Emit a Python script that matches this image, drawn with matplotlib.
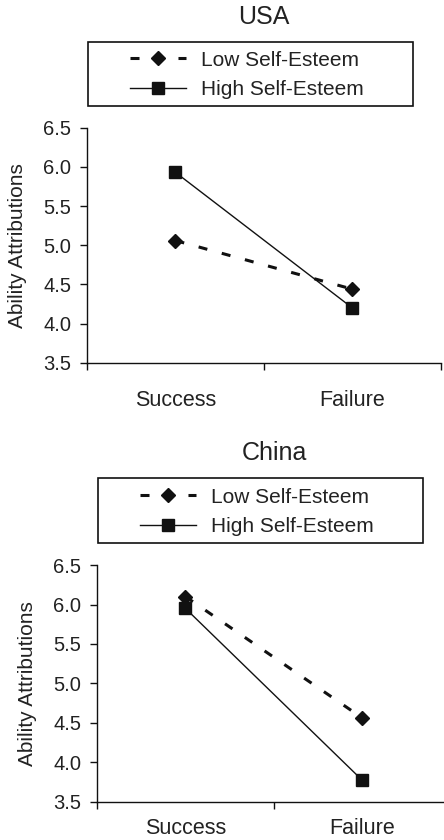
import numpy as np
import matplotlib
matplotlib.use("Agg")
import matplotlib.pyplot as plt
from matplotlib.patches import Rectangle

plt.rcParams["font.family"] = ["Liberation Sans", "DejaVu Sans"]

# Data
conditions = ["Success", "Failure"]
series_names = ["Low Self-Esteem", "High Self-Esteem"]
usa_low = [5.06, 4.44]
usa_high = [5.93, 4.20]
china_low = [6.10, 4.56]
china_high = [5.95, 3.77]
y_ticks = [3.5, 4.0, 4.5, 5.0, 5.5, 6.0, 6.5]

ink = "#111111"
text_color = "#222222"

fig = plt.figure(figsize=(4.44, 8.4), dpi=100)
ax_usa = fig.add_axes([0.196, 0.568, 0.797, 0.280])
ax_china = fig.add_axes([0.2185, 0.0456, 0.797, 0.2817])


def draw_panel(ax, title, low, high, xlabel_pad):
    x = np.arange(len(conditions)) + 0.5
    ax.plot(x, low, color=ink, lw=2.2, dashes=(2.95, 4.9), marker="D",
            markersize=7, label=series_names[0])
    ax.plot(x, high, color=ink, lw=1.0, marker="s", markersize=8,
            label=series_names[1])

    ax.set_xlim(0, len(conditions))
    ax.set_ylim(y_ticks[0], y_ticks[-1])
    ax.set_yticks(y_ticks)
    ax.set_yticklabels([f"{v:.1f}" for v in y_ticks])
    ax.set_xticks(np.arange(len(conditions) + 1))
    ax.set_xticklabels([])
    ax.set_xticks(x, minor=True)
    ax.set_xticklabels(conditions, minor=True)

    for side in ["top", "right"]:
        ax.spines[side].set_visible(False)
    for side in ["left", "bottom"]:
        ax.spines[side].set_color(ink)
        ax.spines[side].set_linewidth(1.0)

    ax.tick_params(axis="y", direction="out", length=5, width=1.0, pad=6.5,
                   labelsize=14.5, colors=ink, labelcolor=text_color)
    ax.tick_params(axis="x", which="major", direction="out", length=5,
                   width=1.0, colors=ink)
    ax.tick_params(axis="x", which="minor", length=0, pad=xlabel_pad,
                   labelsize=15.5, labelcolor=text_color)

    ax.set_ylabel("Ability Attributions", fontsize=15, color=text_color)
    ax.yaxis.set_label_coords(-0.17, 0.5)

    ax.text(0.5, 1.472, title, transform=ax.transAxes, ha="center",
            va="center", fontsize=18, color=text_color)

    ax.legend(loc="center", bbox_to_anchor=(0.452, 1.225),
              bbox_transform=ax.transAxes, frameon=False, fontsize=15,
              handlelength=2.7, handletextpad=0.7, labelspacing=0.5,
              labelcolor=text_color)
    ax.add_patch(Rectangle((0.003, 1.094), 0.918, 0.272,
                           transform=ax.transAxes, fill=False,
                           edgecolor=ink, lw=1.2, clip_on=False))


draw_panel(ax_usa, "USA", usa_low, usa_high, 19.5)
draw_panel(ax_china, "China", china_low, china_high, 11.5)

fig.savefig("out.png", dpi=100)
